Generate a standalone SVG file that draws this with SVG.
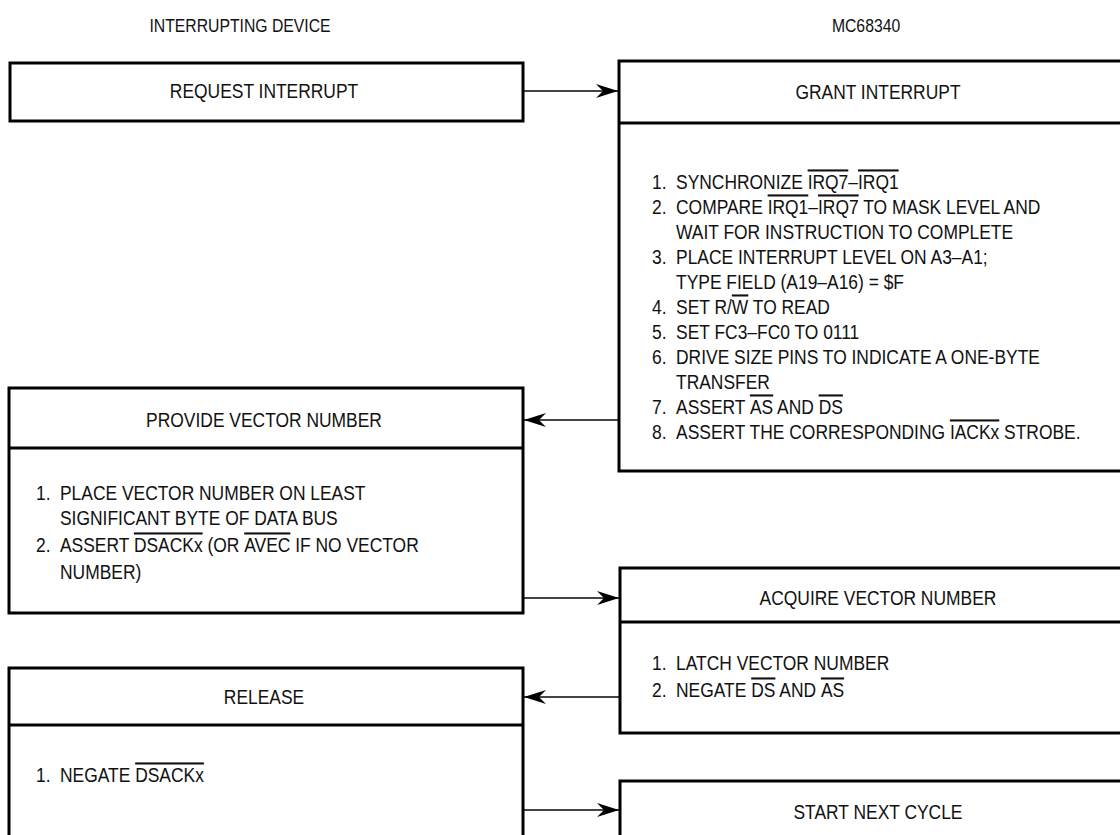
<svg xmlns="http://www.w3.org/2000/svg" width="1120" height="835" viewBox="0 0 1120 835">
<style>
text{font-family:"Liberation Sans",Arial,sans-serif;fill:#111;}
.t{font-size:19px;text-anchor:middle;}
.h{font-size:21px;text-anchor:middle;}
.b{font-size:21px;}
.o{text-decoration:overline;}
.box{fill:#fff;stroke:#000;stroke-width:3;}
.div{stroke:#000;stroke-width:3;}
.c{stroke:#444;stroke-width:2;fill:none;}
</style>
<defs>
<marker id="ah" markerUnits="userSpaceOnUse" markerWidth="22" markerHeight="14" refX="22" refY="7" orient="auto">
<path d="M0,0 L22,7 L0,14 L7,7 Z" fill="#000"/>
</marker>
</defs>
<g id="titles" transform="scale(0.83,1)">
<text class="t" x="289.2" y="32">INTERRUPTING DEVICE</text>
<text class="t" x="1043.4" y="32">MC68340</text>
</g>
<g id="connectors">
<line class="c" x1="524" y1="91" x2="618" y2="91" marker-end="url(#ah)"/>
<line class="c" x1="618" y1="420" x2="524" y2="420" marker-end="url(#ah)"/>
<line class="c" x1="524" y1="598" x2="619" y2="598" marker-end="url(#ah)"/>
<line class="c" x1="619" y1="697" x2="524" y2="697" marker-end="url(#ah)"/>
<line class="c" x1="524" y1="810" x2="619" y2="810" marker-end="url(#ah)"/>
</g>
<g id="request">
<rect class="box" x="10" y="63" width="513" height="58"/>
<g transform="scale(0.83,1)">
<text class="h" x="318.1" y="98.5">REQUEST INTERRUPT</text>
</g>
</g>
<g id="grant">
<rect class="box" x="619" y="61" width="520" height="410"/>
<line class="div" x1="619" y1="123" x2="1139" y2="123"/>
<g transform="scale(0.83,1)">
<text class="h" x="1057.8" y="99">GRANT INTERRUPT</text>
<text class="b" y="189"><tspan x="785.5">1.</tspan><tspan x="814.5">SYNCHRONIZE </tspan><tspan class="o">IRQ7</tspan>–<tspan class="o">IRQ1</tspan></text>
<text class="b" y="214"><tspan x="785.5">2.</tspan><tspan x="814.5">COMPARE </tspan><tspan class="o">IRQ1</tspan>–<tspan class="o">IRQ7</tspan> TO MASK LEVEL AND</text>
<text class="b" x="814.5" y="239">WAIT FOR INSTRUCTION TO COMPLETE</text>
<text class="b" y="264"><tspan x="785.5">3.</tspan><tspan x="814.5">PLACE INTERRUPT LEVEL ON A3–A1;</tspan></text>
<text class="b" x="814.5" y="289">TYPE FIELD (A19–A16) = $F</text>
<text class="b" y="314"><tspan x="785.5">4.</tspan><tspan x="814.5">SET R/</tspan><tspan class="o">W</tspan> TO READ</text>
<text class="b" y="339"><tspan x="785.5">5.</tspan><tspan x="814.5">SET FC3–FC0 TO 0111</tspan></text>
<text class="b" y="364"><tspan x="785.5">6.</tspan><tspan x="814.5">DRIVE SIZE PINS TO INDICATE A ONE-BYTE</tspan></text>
<text class="b" x="814.5" y="389">TRANSFER</text>
<text class="b" y="414"><tspan x="785.5">7.</tspan><tspan x="814.5">ASSERT </tspan><tspan class="o">AS</tspan> AND <tspan class="o">DS</tspan></text>
<text class="b" y="439"><tspan x="785.5">8.</tspan><tspan x="814.5">ASSERT THE CORRESPONDING </tspan><tspan class="o">IACKx</tspan> STROBE.</text>
</g>
</g>
<g id="provide">
<rect class="box" x="9" y="388" width="514" height="225"/>
<line class="div" x1="9" y1="448" x2="523" y2="448"/>
<g transform="scale(0.83,1)">
<text class="h" x="318.1" y="427.5">PROVIDE VECTOR NUMBER</text>
<text class="b" y="500"><tspan x="43.4">1.</tspan><tspan x="72.3">PLACE VECTOR NUMBER ON LEAST</tspan></text>
<text class="b" x="72.3" y="525">SIGNIFICANT BYTE OF DATA BUS</text>
<text class="b" y="552"><tspan x="43.4">2.</tspan><tspan x="72.3">ASSERT </tspan><tspan class="o">DSACKx</tspan> (OR <tspan class="o">AVEC</tspan> IF NO VECTOR</text>
<text class="b" x="72.3" y="579">NUMBER)</text>
</g>
</g>
<g id="acquire">
<rect class="box" x="620" y="568" width="520" height="165"/>
<line class="div" x1="620" y1="622" x2="1140" y2="622"/>
<g transform="scale(0.83,1)">
<text class="h" x="1057.8" y="605">ACQUIRE VECTOR NUMBER</text>
<text class="b" y="670"><tspan x="785.5">1.</tspan><tspan x="814.5">LATCH VECTOR NUMBER</tspan></text>
<text class="b" y="697"><tspan x="785.5">2.</tspan><tspan x="814.5">NEGATE </tspan><tspan class="o">DS</tspan> AND <tspan class="o">AS</tspan></text>
</g>
</g>
<g id="release">
<rect class="box" x="9" y="668" width="514" height="200"/>
<line class="div" x1="9" y1="725" x2="523" y2="725"/>
<g transform="scale(0.83,1)">
<text class="h" x="318.1" y="704">RELEASE</text>
<text class="b" y="782"><tspan x="43.4">1.</tspan><tspan x="72.3">NEGATE </tspan><tspan class="o">DSACKx</tspan></text>
</g>
</g>
<g id="start">
<rect class="box" x="620" y="781" width="520" height="100"/>
<g transform="scale(0.83,1)">
<text class="h" x="1057.8" y="819">START NEXT CYCLE</text>
</g>
</g>
</svg>
